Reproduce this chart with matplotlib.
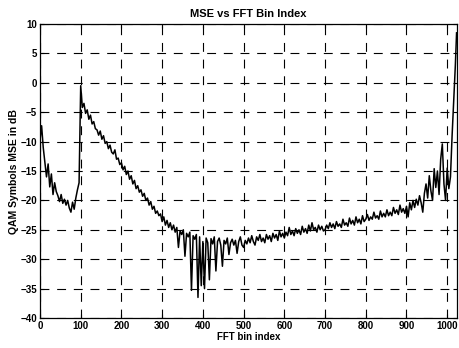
import matplotlib
matplotlib.use("Agg")
import matplotlib.pyplot as plt
import numpy as np

# FFT bin positions (every 4th bin, plus the last bin)
bins = list(range(0, 1024, 4)) + [1023]

mse_db = [
    # 0 - 96
    -9.8, -7.3, -11.0, -13.5, -16.0, -13.8, -17.7, -15.5, -19.0, -17.0,
    -18.5, -19.2, -20.2, -19.0, -20.5, -19.8, -20.8, -20.0, -21.3, -22.0,
    -20.3, -21.5, -19.6, -18.2, -17.0,
    # 100 - 196
    -0.5, -4.2, -3.5, -5.2, -4.6, -6.2, -5.5, -7.0, -6.6, -7.8,
    -8.0, -8.9, -8.2, -9.6, -9.0, -10.3, -10.0, -11.2, -10.6, -11.8,
    -12.1, -11.4, -13.0, -12.8, -13.9,
    # 200 - 296
    -13.6, -14.8, -14.2, -15.6, -15.0, -16.4, -15.8, -17.2, -16.6, -18.0,
    -17.5, -18.6, -18.2, -19.3, -18.8, -20.0, -19.6, -20.8, -20.2, -21.5,
    -21.0, -22.2, -21.8, -22.6, -22.3,
    # 300 - 396
    -23.6, -22.8, -24.2, -23.4, -24.6, -23.8, -25.0, -24.2, -25.4, -24.6,
    -28.0, -25.2, -25.8, -25.0, -29.5, -25.6, -26.2, -25.4, -35.3, -26.0,
    -26.6, -25.8, -36.5, -26.2, -34.5,
    # 400 - 496
    -27.0, -35.0, -26.4, -27.2, -33.5, -26.5, -27.4, -26.2, -32.0, -27.0,
    -26.4, -27.6, -31.2, -26.8, -27.4, -26.4, -29.2, -27.2, -26.6, -27.6,
    -26.8, -29.0, -27.0, -26.2, -27.6,
    # 500 - 596
    -28.0, -26.8, -27.4, -26.4, -27.2, -26.0, -27.0, -27.6, -26.2, -26.8,
    -25.8, -27.0, -26.4, -27.2, -25.8, -26.6, -26.0, -27.0, -25.6, -26.4,
    -25.8, -26.8, -25.2, -26.2, -25.6,
    # 600 - 696
    -26.4, -25.4, -26.0, -24.6, -25.8, -25.2, -26.0, -24.8, -25.6, -25.0,
    -25.8, -24.4, -25.4, -24.8, -25.6, -24.2, -25.2, -23.8, -25.0, -24.6,
    -25.4, -24.2, -25.0, -24.4, -25.2,
    # 700 - 796
    -25.0, -24.2, -24.8, -23.8, -24.6, -24.0, -24.8, -23.6, -24.4, -24.0,
    -24.6, -23.2, -24.2, -23.8, -24.4, -23.0, -24.0, -23.4, -24.2, -22.8,
    -23.8, -23.2, -24.0, -22.6, -23.6,
    # 800 - 896
    -23.2, -22.4, -23.4, -22.8, -23.2, -22.0, -23.0, -22.6, -23.2, -21.8,
    -22.8, -22.2, -22.8, -21.6, -22.6, -22.0, -22.6, -21.2, -22.2, -21.6,
    -22.4, -20.8, -22.0, -21.4, -22.2,
    # 900 - 996
    -21.0, -22.8, -20.4, -21.6, -20.0, -21.2, -19.8, -20.8, -19.2, -20.4,
    -22.0, -18.8, -17.2, -19.6, -15.8, -18.4, -20.0, -14.6, -17.8, -15.0,
    -19.0, -13.0, -10.4, -17.2, -20.0,
    # 1000 - 1020, 1023
    -14.5, -18.0, -16.0, -9.0, -3.0, 3.0, 8.5,
]

x_ticks = [0, 100, 200, 300, 400, 500, 600, 700, 800, 900, 1000]
y_ticks = [-40, -35, -30, -25, -20, -15, -10, -5, 0, 5, 10]

plt.rcParams['font.family'] = ['Liberation Sans', 'DejaVu Sans']

fig = plt.figure(figsize=(4.59, 3.48), dpi=100)
ax = fig.add_axes([0.0871, 0.0862, 0.9085, 0.8448])

ax.plot(bins, mse_db, color='black', linewidth=1.1)

ax.set_xlim(0, 1024)
ax.set_ylim(-40, 10)
ax.set_xticks(x_ticks)
ax.set_yticks(y_ticks)
ax.grid(True, color='black', linestyle=(0, (8, 7)), linewidth=0.8)
ax.tick_params(direction='in', top=True, right=True, length=3, width=0.8,
               labelsize=7, pad=2)
for lbl in ax.get_xticklabels() + ax.get_yticklabels():
    lbl.set_fontweight('bold')
for s in ax.spines.values():
    s.set_linewidth(0.9)
    s.set_color('black')

ax.set_title('MSE vs FFT Bin Index', fontsize=8, fontweight='bold', pad=5)
ax.set_xlabel('FFT bin index', fontsize=7, fontweight='bold', labelpad=1)
ax.set_ylabel('QAM Symbols MSE in dB', fontsize=7.5, fontweight='bold', labelpad=1)

fig.savefig('out.png', dpi=100)
